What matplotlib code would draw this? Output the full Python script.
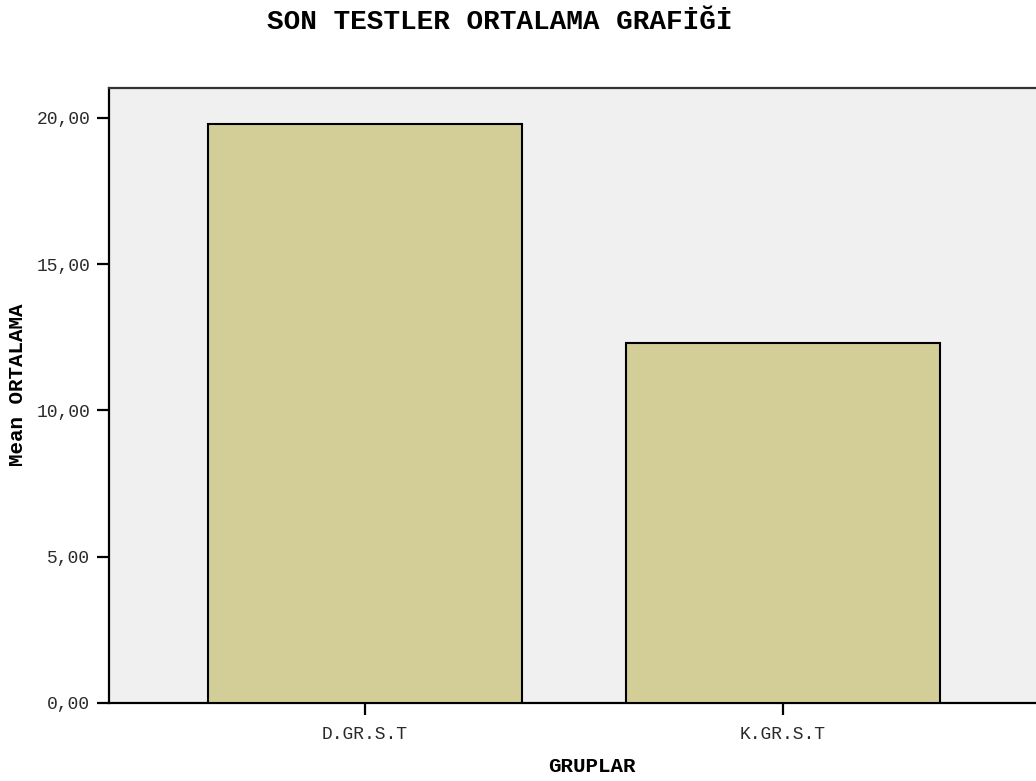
import matplotlib
matplotlib.use("Agg")
import matplotlib.pyplot as plt
from matplotlib.ticker import FuncFormatter

groups = ["D.GR.S.T", "K.GR.S.T"]
means = [19.80, 12.30]
yticks = [0, 5, 10, 15, 20]

title = "SON TESTLER ORTALAMA GRAFİĞİ"
xlabel = "GRUPLAR"
ylabel = "Mean ORTALAMA"

mono = ["Liberation Mono", "DejaVu Sans Mono"]

fig = plt.figure(figsize=(10.36, 7.81), dpi=100)
ax = fig.add_axes([109 / 1036, 78 / 781, 930 / 1036, 615.5 / 781])
ax.set_facecolor("#f0f0f0")

x = list(range(len(groups)))
ax.bar(x, means, width=0.749, color="#d3ce98", edgecolor="black", linewidth=1.5, zorder=3)

ax.set_xlim(-0.612, 1.612)
ax.set_ylim(0, 21.04)
ax.set_xticks(x)
ax.set_xticklabels(groups)
ax.set_yticks(yticks)
ax.yaxis.set_major_formatter(FuncFormatter(lambda v, p: ("%.2f" % v).replace(".", ",")))

for lab in ax.get_xticklabels() + ax.get_yticklabels():
    lab.set_fontfamily(mono)
    lab.set_fontsize(13)
    lab.set_color("#2a2a2a")

ax.tick_params(axis="both", direction="out", length=8.5, width=1.6, color="black")
ax.tick_params(axis="y", pad=5)
ax.tick_params(axis="x", pad=8)

for s in ax.spines.values():
    s.set_linewidth(1.6)
    s.set_color("black")
ax.spines["top"].set_color("#333333")

ax.set_xlabel(xlabel, fontfamily=mono, fontsize=15, fontweight="bold")
ax.set_ylabel(ylabel, fontfamily=mono, fontsize=15, fontweight="bold")
ax.xaxis.set_label_coords((592 - 109) / 930, -(757 - 703) / 615.5)
ax.yaxis.set_label_coords(-(109 - 27) / 930, (703 - 385) / 615.5)

fig.text(500 / 1036, 1 - 22 / 781, title, ha="center", va="center",
         fontfamily=mono, fontsize=20, fontweight="bold")

fig.savefig("out.png", dpi=100)
